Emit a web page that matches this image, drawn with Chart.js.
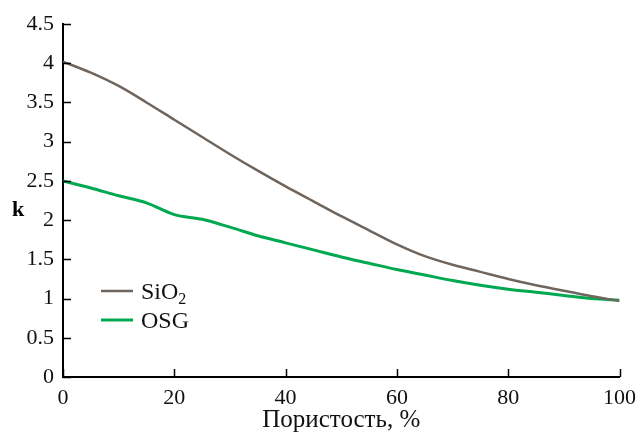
<!DOCTYPE html>
<html>
<head>
<meta charset="utf-8">
<script src="https://cdn.jsdelivr.net/npm/chart.js@4/dist/chart.umd.min.js"></script>
<style>
  html, body { margin: 0; padding: 0; background: #fff; }
  #wrap { width: 644px; height: 432px; position: relative; }
</style>
</head>
<body>
<div id="wrap"><canvas id="chart"></canvas></div>
<script>
// porosity, %
const porosity = [0, 5, 10, 15, 20, 25, 30, 35, 40, 45, 50, 55, 60, 65, 70, 75, 80, 85, 90, 95, 100];
// dielectric constant k
const kSiO2 = [4.02, 3.88, 3.71, 3.50, 3.28, 3.06, 2.84, 2.63, 2.43, 2.24, 2.05, 1.87, 1.69, 1.54, 1.43, 1.34, 1.25, 1.17, 1.10, 1.03, 0.97];
const kOSG = [2.50, 2.41, 2.31, 2.22, 2.07, 2.01, 1.91, 1.80, 1.71, 1.62, 1.53, 1.45, 1.37, 1.30, 1.23, 1.17, 1.12, 1.08, 1.04, 1.00, 0.98];
const xTicks = [0, 20, 40, 60, 80, 100];
const yTicks = [0, 0.5, 1, 1.5, 2, 2.5, 3, 3.5, 4, 4.5];

const serif = '"Liberation Serif", "Times New Roman", serif';
const grayCol = 'rgb(112, 101, 92)';
const greenCol = 'rgb(0, 168, 80)';

function toPoints(xs, ys) {
  return xs.map((x, i) => ({ x: x, y: ys[i] }));
}

// tick marks pointing into the plot, plus the "k" label and legend
const extras = {
  id: 'extras',
  afterDraw(chart) {
    const ctx = chart.ctx;
    const xs = chart.scales.x, ys = chart.scales.y;
    const a = chart.chartArea;
    ctx.save();
    ctx.strokeStyle = '#000';
    ctx.lineWidth = 1.5;
    ctx.beginPath();
    yTicks.forEach(v => {
      const py = Math.round(ys.getPixelForValue(v)) + 0.5;
      ctx.moveTo(a.left, py);
      ctx.lineTo(a.left + 8, py);
    });
    xTicks.forEach(v => {
      const px = Math.round(xs.getPixelForValue(v)) + 0.5;
      ctx.moveTo(px, a.bottom);
      ctx.lineTo(px, a.bottom - 8);
    });
    ctx.stroke();

    // axis label k
    ctx.fillStyle = '#000';
    ctx.font = 'bold 22px ' + serif;
    ctx.textAlign = 'left';
    ctx.textBaseline = 'alphabetic';
    ctx.fillText('k', 12, 216);

    // legend
    const ds = chart.data.datasets;
    const rows = [291, 320];
    ds.forEach((d, i) => {
      ctx.strokeStyle = d.borderColor;
      ctx.lineWidth = d.borderWidth;
      ctx.beginPath();
      ctx.moveTo(101, rows[i]);
      ctx.lineTo(133, rows[i]);
      ctx.stroke();
    });
    ctx.fillStyle = '#111';
    ctx.font = '24px ' + serif;
    ctx.fillText('SiO', 141, 299);
    const w = ctx.measureText('SiO').width;
    ctx.font = '16px ' + serif;
    ctx.fillText('2', 141 + w, 304);
    ctx.font = '24px ' + serif;
    ctx.fillText(ds[1].label, 141, 328);
    ctx.restore();
  }
};

new Chart(document.getElementById('chart'), {
  type: 'line',
  data: {
    datasets: [
      {
        label: 'SiO2',
        data: toPoints(porosity, kSiO2),
        borderColor: grayCol,
        borderWidth: 2.5,
        pointRadius: 0,
        cubicInterpolationMode: 'monotone',
        fill: false
      },
      {
        label: 'OSG',
        data: toPoints(porosity, kOSG),
        borderColor: greenCol,
        borderWidth: 3,
        pointRadius: 0,
        cubicInterpolationMode: 'monotone',
        fill: false
      }
    ]
  },
  options: {
    responsive: true,
    maintainAspectRatio: false,
    animation: false,
    events: [],
    layout: { padding: { left: 0, right: 20, top: 24, bottom: 0 } },
    plugins: {
      legend: { display: false },
      tooltip: { enabled: false }
    },
    scales: {
      x: {
        type: 'linear',
        min: 0,
        max: 100,
        afterFit(s) { s.height = 55; },
        afterBuildTicks(s) { s.ticks = xTicks.map(v => ({ value: v })); },
        grid: { display: false, drawTicks: false },
        border: { display: true, color: '#000', width: 2 },
        ticks: {
          color: '#111',
          padding: 8,
          maxRotation: 0,
          callback: v => String(v),
          font: { family: serif, size: 22 }
        },
        title: {
          display: true,
          text: 'Пористость, %',
          color: '#111',
          padding: { top: 0, bottom: -1 },
          font: { family: serif, size: 25, lineHeight: 1.0 }
        }
      },
      y: {
        min: 0,
        max: 4.5,
        afterFit(s) { s.width = 63; },
        afterBuildTicks(s) { s.ticks = yTicks.map(v => ({ value: v })); },
        grid: { display: false, drawTicks: false },
        border: { display: true, color: '#000', width: 2 },
        ticks: {
          color: '#111',
          padding: 9,
          callback: v => String(v),
          font: { family: serif, size: 22 }
        }
      }
    }
  },
  plugins: [extras]
});
</script>
</body>
</html>
